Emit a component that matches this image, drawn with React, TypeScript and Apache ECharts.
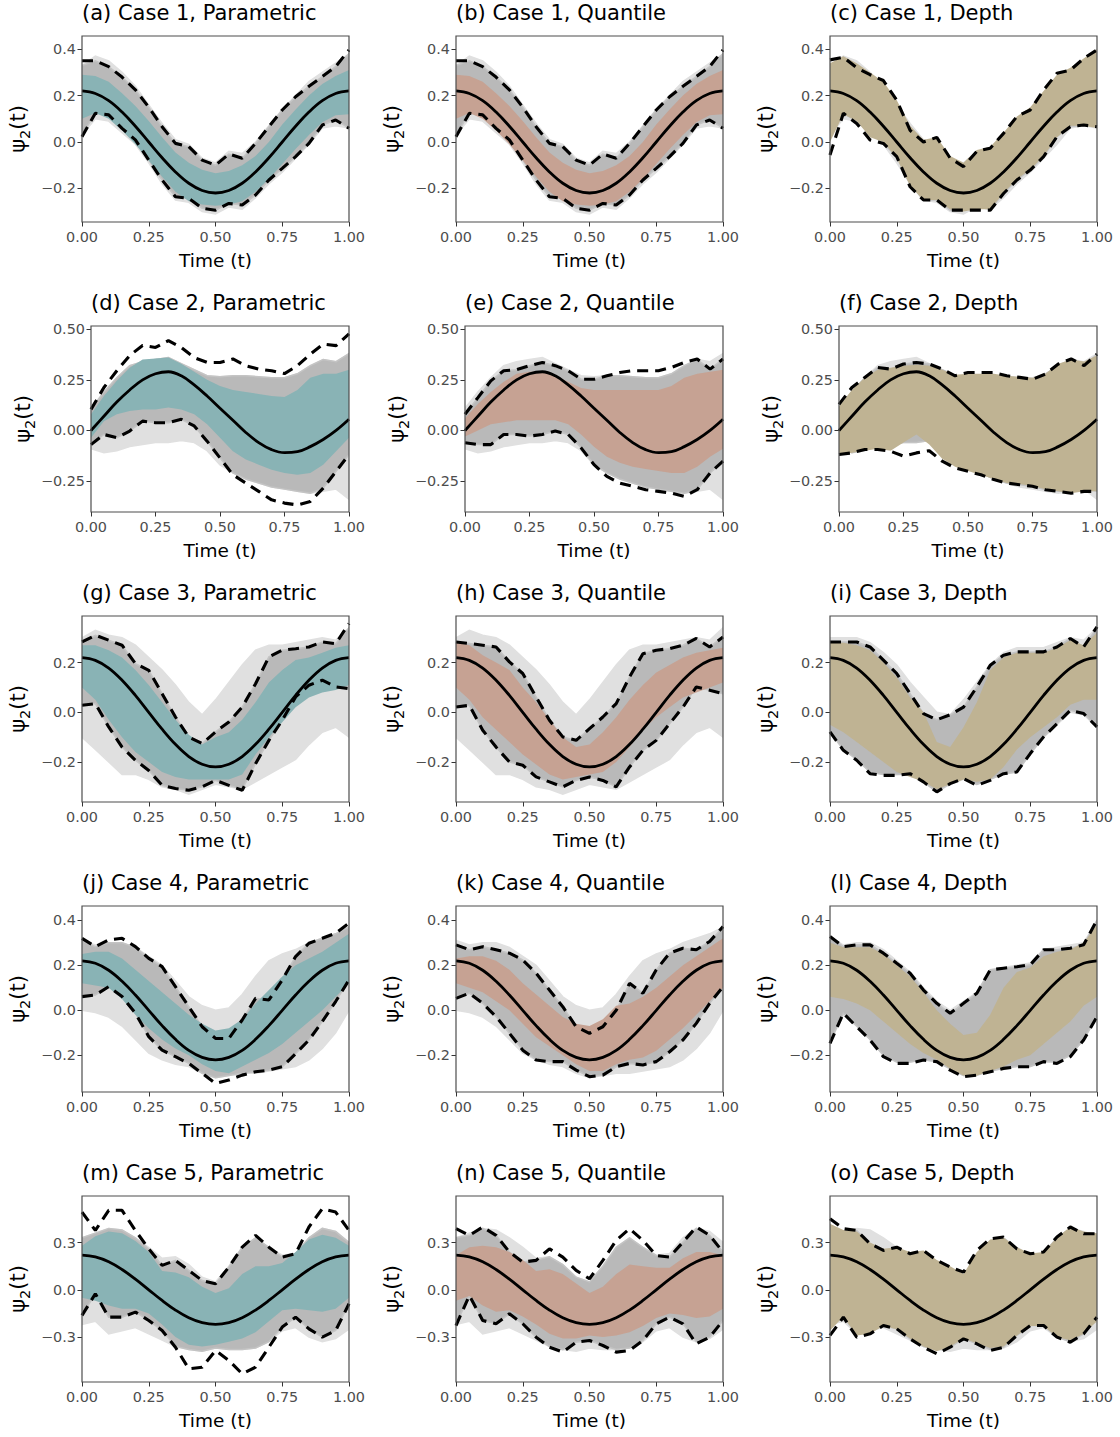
import React, { useEffect, useRef } from "react";
import * as echarts from "echarts";

// Common time grid for every curve
const T = [0, 0.05, 0.1, 0.15, 0.2, 0.25, 0.3, 0.35, 0.4, 0.45, 0.5, 0.55, 0.6, 0.65, 0.7, 0.75, 0.8, 0.85, 0.9, 0.95, 1];
const X_TICKS = [0, 0.25, 0.5, 0.75, 1];

// True eigenfunctions (solid line)
const MEAN_COS = [0.22, 0.209, 0.178, 0.129, 0.068, 0, -0.068, -0.129, -0.178, -0.209, -0.22, -0.209, -0.178, -0.129, -0.068, 0, 0.068, 0.129, 0.178, 0.209, 0.22];
const MEAN_C2 = [0, 0.07, 0.14, 0.2, 0.25, 0.28, 0.29, 0.27, 0.225, 0.17, 0.11, 0.05, -0.01, -0.06, -0.095, -0.11, -0.105, -0.08, -0.045, 0, 0.055];

// Envelopes of the estimated curves (grey)
const G1_HI = [0.33, 0.37, 0.35, 0.3, 0.24, 0.16, 0.08, 0.01, -0.01, -0.07, -0.09, -0.04, -0.05, 0.0, 0.07, 0.14, 0.2, 0.26, 0.3, 0.34, 0.38];
const G1_LO = [0.03, 0.1, 0.09, 0.04, -0.01, -0.09, -0.18, -0.25, -0.26, -0.3, -0.31, -0.28, -0.29, -0.24, -0.18, -0.13, -0.07, -0.01, 0.06, 0.07, 0.06];
const G2_HI = [0.11, 0.19, 0.26, 0.32, 0.34, 0.35, 0.36, 0.33, 0.3, 0.27, 0.265, 0.27, 0.27, 0.265, 0.26, 0.26, 0.28, 0.32, 0.35, 0.34, 0.38];
const G2_LO = [-0.09, -0.11, -0.1, -0.08, -0.07, -0.06, -0.06, -0.05, -0.06, -0.1, -0.17, -0.21, -0.24, -0.26, -0.28, -0.29, -0.3, -0.31, -0.3, -0.29, -0.34];
const G3_HI = [0.3, 0.33, 0.31, 0.3, 0.27, 0.22, 0.17, 0.11, 0.04, -0.01, 0.05, 0.12, 0.19, 0.25, 0.27, 0.27, 0.28, 0.29, 0.3, 0.29, 0.34];
const G3_LO = [-0.1, -0.15, -0.2, -0.25, -0.25, -0.27, -0.3, -0.31, -0.33, -0.31, -0.29, -0.3, -0.31, -0.28, -0.25, -0.22, -0.19, -0.13, -0.08, -0.06, -0.1];
const G_I_HI = [0.3, 0.3, 0.3, 0.28, 0.24, 0.19, 0.12, 0.06, 0.0, -0.01, 0.05, 0.12, 0.19, 0.24, 0.26, 0.26, 0.26, 0.28, 0.3, 0.29, 0.34];
const G_I_LO = [-0.08, -0.15, -0.19, -0.24, -0.25, -0.25, -0.25, -0.28, -0.32, -0.29, -0.27, -0.29, -0.27, -0.25, -0.24, -0.17, -0.1, -0.05, 0.0, -0.01, -0.06];
const G4_HI = [0.31, 0.29, 0.3, 0.3, 0.28, 0.24, 0.2, 0.13, 0.06, 0.02, 0.0, 0.01, 0.07, 0.15, 0.22, 0.25, 0.27, 0.3, 0.32, 0.34, 0.37];
const G4_LO = [0.0, -0.01, -0.03, -0.07, -0.13, -0.19, -0.22, -0.24, -0.25, -0.28, -0.3, -0.29, -0.28, -0.28, -0.27, -0.26, -0.25, -0.22, -0.17, -0.1, 0.0];
const G_L_HI = [0.33, 0.29, 0.3, 0.3, 0.27, 0.22, 0.17, 0.1, 0.04, 0.0, 0.04, 0.08, 0.18, 0.19, 0.2, 0.21, 0.27, 0.28, 0.29, 0.3, 0.4];
const G_L_LO = [-0.14, -0.02, -0.07, -0.13, -0.2, -0.23, -0.23, -0.22, -0.23, -0.26, -0.29, -0.29, -0.27, -0.26, -0.25, -0.25, -0.23, -0.23, -0.2, -0.13, -0.03];
const G5_HI = [0.33, 0.36, 0.39, 0.38, 0.33, 0.27, 0.2, 0.21, 0.16, 0.08, 0.05, 0.15, 0.27, 0.33, 0.27, 0.22, 0.23, 0.33, 0.39, 0.37, 0.3];
const G5_LO = [-0.22, -0.2, -0.28, -0.26, -0.24, -0.28, -0.32, -0.36, -0.38, -0.39, -0.37, -0.38, -0.38, -0.37, -0.33, -0.26, -0.24, -0.3, -0.33, -0.31, -0.25];

// Case 1
const B_A_HI = [0.29, 0.285, 0.26, 0.21, 0.155, 0.09, 0.02, -0.045, -0.09, -0.12, -0.135, -0.125, -0.1, -0.06, 0.0, 0.075, 0.14, 0.2, 0.25, 0.285, 0.31];
const B_A_LO = [0.1, 0.125, 0.1, 0.05, -0.01, -0.08, -0.15, -0.215, -0.255, -0.27, -0.275, -0.27, -0.255, -0.215, -0.16, -0.095, -0.03, 0.03, 0.085, 0.115, 0.12];
const D_A_HI = [0.35, 0.35, 0.325, 0.28, 0.225, 0.15, 0.066, -0.006, -0.02, -0.078, -0.1, -0.052, -0.07, -0.006, 0.066, 0.138, 0.195, 0.24, 0.282, 0.325, 0.397];
const D_A_LO = [0.023, 0.124, 0.117, 0.059, 0.009, -0.078, -0.164, -0.236, -0.243, -0.286, -0.294, -0.265, -0.272, -0.229, -0.164, -0.114, -0.063, -0.006, 0.073, 0.095, 0.059];
const B_B_HI = [0.29, 0.285, 0.26, 0.21, 0.155, 0.09, 0.02, -0.045, -0.09, -0.12, -0.135, -0.125, -0.1, -0.06, 0.0, 0.075, 0.14, 0.2, 0.25, 0.285, 0.31];
const B_B_LO = [0.1, 0.125, 0.1, 0.05, -0.01, -0.08, -0.15, -0.215, -0.255, -0.27, -0.275, -0.27, -0.255, -0.215, -0.16, -0.095, -0.03, 0.03, 0.085, 0.115, 0.12];
const D_B_HI = [0.35, 0.35, 0.325, 0.28, 0.225, 0.15, 0.066, -0.006, -0.02, -0.078, -0.1, -0.052, -0.07, -0.006, 0.066, 0.138, 0.195, 0.24, 0.282, 0.325, 0.397];
const D_B_LO = [0.023, 0.124, 0.117, 0.059, 0.009, -0.078, -0.164, -0.236, -0.243, -0.286, -0.294, -0.265, -0.272, -0.229, -0.164, -0.114, -0.063, -0.006, 0.073, 0.095, 0.059];
const B_C_HI = [0.34, 0.37, 0.34, 0.3, 0.26, 0.18, 0.07, 0.01, 0.02, -0.06, -0.09, -0.035, -0.02, 0.04, 0.11, 0.15, 0.22, 0.29, 0.32, 0.36, 0.4];
const B_C_LO = [0.0, 0.12, 0.09, 0.02, 0.0, -0.07, -0.19, -0.25, -0.25, -0.29, -0.3, -0.29, -0.29, -0.22, -0.16, -0.12, -0.06, 0.02, 0.07, 0.07, 0.06];
const D_C_HI = [0.354, 0.365, 0.32, 0.29, 0.265, 0.18, 0.05, 0.0, 0.02, -0.07, -0.106, -0.04, -0.027, 0.037, 0.11, 0.138, 0.224, 0.296, 0.31, 0.36, 0.397];
const D_C_LO = [-0.056, 0.124, 0.08, 0.009, -0.006, -0.063, -0.193, -0.25, -0.25, -0.294, -0.294, -0.294, -0.294, -0.222, -0.164, -0.121, -0.063, 0.023, 0.066, 0.073, 0.066];

// Case 2
const B_D_HI = [0.08, 0.17, 0.245, 0.31, 0.35, 0.355, 0.36, 0.33, 0.29, 0.25, 0.22, 0.2, 0.19, 0.18, 0.17, 0.165, 0.2, 0.26, 0.28, 0.28, 0.3];
const B_D_LO = [-0.036, 0.046, 0.08, 0.096, 0.104, 0.104, 0.113, 0.104, 0.08, 0.03, -0.036, -0.103, -0.144, -0.169, -0.194, -0.21, -0.219, -0.21, -0.169, -0.103, -0.036];
const D_D_HI = [0.104, 0.212, 0.295, 0.37, 0.42, 0.41, 0.444, 0.41, 0.36, 0.336, 0.336, 0.353, 0.32, 0.303, 0.295, 0.281, 0.32, 0.377, 0.427, 0.419, 0.477];
const D_D_LO = [-0.07, -0.02, -0.036, -0.003, 0.046, 0.038, 0.038, 0.055, 0.022, -0.053, -0.136, -0.219, -0.26, -0.301, -0.343, -0.359, -0.368, -0.351, -0.285, -0.202, -0.119];
const B_E_HI = [0.06, 0.13, 0.19, 0.24, 0.28, 0.29, 0.29, 0.27, 0.24, 0.21, 0.2, 0.2, 0.2, 0.2, 0.2, 0.2, 0.22, 0.26, 0.28, 0.29, 0.3];
const B_E_LO = [-0.03, 0.0, 0.03, 0.04, 0.05, 0.05, 0.05, 0.05, 0.03, -0.02, -0.08, -0.13, -0.16, -0.18, -0.19, -0.2, -0.21, -0.21, -0.18, -0.13, -0.09];
const D_E_HI = [0.08, 0.162, 0.245, 0.295, 0.3, 0.32, 0.336, 0.32, 0.295, 0.253, 0.253, 0.27, 0.286, 0.295, 0.295, 0.295, 0.311, 0.336, 0.353, 0.303, 0.353];
const D_E_LO = [-0.061, -0.07, -0.07, -0.02, -0.02, -0.028, -0.02, -0.003, -0.02, -0.086, -0.169, -0.227, -0.26, -0.276, -0.293, -0.301, -0.31, -0.326, -0.293, -0.21, -0.152];
const B_F_HI = [0.12, 0.2, 0.26, 0.3, 0.31, 0.32, 0.325, 0.32, 0.3, 0.275, 0.28, 0.28, 0.28, 0.27, 0.265, 0.26, 0.28, 0.33, 0.35, 0.34, 0.37];
const B_F_LO = [-0.12, -0.11, -0.1, -0.09, -0.1, -0.06, -0.02, -0.07, -0.14, -0.18, -0.2, -0.22, -0.24, -0.26, -0.265, -0.275, -0.29, -0.3, -0.31, -0.3, -0.3];
const D_F_HI = [0.129, 0.212, 0.262, 0.311, 0.303, 0.328, 0.336, 0.328, 0.303, 0.27, 0.286, 0.286, 0.286, 0.27, 0.262, 0.253, 0.278, 0.328, 0.353, 0.32, 0.377];
const D_F_LO = [-0.119, -0.111, -0.094, -0.094, -0.103, -0.127, -0.111, -0.1, -0.152, -0.185, -0.202, -0.219, -0.243, -0.26, -0.268, -0.276, -0.293, -0.301, -0.31, -0.301, -0.301];

// Case 3
const B_G_HI = [0.27, 0.27, 0.25, 0.22, 0.17, 0.11, 0.04, -0.03, -0.09, -0.13, -0.1, -0.08, -0.03, 0.04, 0.12, 0.17, 0.21, 0.22, 0.24, 0.26, 0.27];
const B_G_LO = [0.1, 0.05, -0.03, -0.1, -0.16, -0.2, -0.24, -0.26, -0.27, -0.27, -0.27, -0.27, -0.25, -0.17, -0.1, -0.04, 0.02, 0.06, 0.08, 0.09, 0.11];
const D_G_HI = [0.283, 0.31, 0.29, 0.27, 0.196, 0.169, 0.075, -0.019, -0.1, -0.126, -0.079, -0.039, 0.021, 0.115, 0.223, 0.25, 0.256, 0.263, 0.283, 0.276, 0.357];
const D_G_LO = [0.028, 0.035, -0.059, -0.14, -0.193, -0.234, -0.294, -0.307, -0.314, -0.3, -0.274, -0.294, -0.314, -0.207, -0.113, -0.032, 0.062, 0.109, 0.129, 0.102, 0.095];
const B_H_HI = [0.28, 0.27, 0.23, 0.2, 0.17, 0.1, 0.04, -0.03, -0.1, -0.14, -0.13, -0.08, -0.02, 0.05, 0.11, 0.16, 0.19, 0.22, 0.24, 0.25, 0.26];
const B_H_LO = [0.1, 0.05, -0.02, -0.07, -0.12, -0.17, -0.21, -0.25, -0.27, -0.26, -0.25, -0.24, -0.2, -0.14, -0.07, -0.02, 0.02, 0.06, 0.08, 0.1, 0.12];
const D_H_HI = [0.283, 0.277, 0.27, 0.263, 0.203, 0.156, 0.062, -0.032, -0.099, -0.113, -0.066, -0.019, 0.035, 0.142, 0.236, 0.25, 0.256, 0.27, 0.297, 0.263, 0.303];
const D_H_LO = [0.021, 0.028, -0.072, -0.14, -0.2, -0.213, -0.26, -0.28, -0.3, -0.274, -0.26, -0.274, -0.3, -0.22, -0.153, -0.113, -0.046, 0.021, 0.102, 0.089, 0.075];
const B_I_HI = [0.28, 0.28, 0.27, 0.25, 0.2, 0.14, 0.06, 0.0, -0.12, -0.14, -0.06, 0.04, 0.17, 0.22, 0.24, 0.24, 0.24, 0.26, 0.29, 0.27, 0.32];
const B_I_LO = [-0.05, -0.08, -0.12, -0.16, -0.2, -0.24, -0.26, -0.28, -0.31, -0.29, -0.27, -0.28, -0.27, -0.22, -0.15, -0.1, -0.06, -0.02, 0.03, 0.05, 0.05];
const D_I_HI = [0.283, 0.283, 0.283, 0.263, 0.21, 0.156, 0.075, -0.005, -0.03, -0.01, 0.021, 0.102, 0.189, 0.23, 0.243, 0.243, 0.243, 0.263, 0.297, 0.263, 0.344];
const D_I_LO = [-0.079, -0.153, -0.193, -0.247, -0.254, -0.254, -0.247, -0.28, -0.32, -0.287, -0.267, -0.294, -0.274, -0.247, -0.24, -0.166, -0.099, -0.046, 0.008, -0.005, -0.059];

// Case 4
const B_J_HI = [0.25, 0.26, 0.26, 0.23, 0.18, 0.13, 0.08, 0.03, -0.02, -0.06, -0.09, -0.08, -0.04, 0.03, 0.09, 0.15, 0.2, 0.23, 0.26, 0.3, 0.34];
const B_J_LO = [0.12, 0.11, 0.1, 0.05, -0.02, -0.08, -0.13, -0.17, -0.2, -0.24, -0.27, -0.28, -0.25, -0.22, -0.19, -0.15, -0.1, -0.05, 0.0, 0.06, 0.12];
const D_J_HI = [0.32, 0.283, 0.313, 0.32, 0.283, 0.231, 0.194, 0.105, 0.016, -0.073, -0.125, -0.125, -0.043, 0.053, 0.046, 0.135, 0.239, 0.298, 0.32, 0.343, 0.387];
const D_J_LO = [0.061, 0.068, 0.105, 0.061, -0.013, -0.117, -0.177, -0.206, -0.236, -0.28, -0.325, -0.31, -0.288, -0.273, -0.266, -0.251, -0.193, -0.132, -0.05, 0.039, 0.135];
const B_K_HI = [0.23, 0.24, 0.24, 0.22, 0.18, 0.12, 0.07, 0.02, -0.03, -0.06, -0.07, -0.04, 0.02, 0.03, 0.06, 0.1, 0.15, 0.2, 0.24, 0.28, 0.32];
const B_K_LO = [0.12, 0.1, 0.08, 0.04, 0.0, -0.06, -0.12, -0.16, -0.2, -0.24, -0.27, -0.27, -0.24, -0.22, -0.21, -0.18, -0.13, -0.08, -0.02, 0.04, 0.1];
const D_K_HI = [0.291, 0.269, 0.283, 0.269, 0.254, 0.224, 0.165, 0.09, 0.016, -0.073, -0.102, -0.073, 0.0, 0.12, 0.076, 0.18, 0.254, 0.276, 0.269, 0.306, 0.372];
const D_K_LO = [0.053, 0.076, 0.031, -0.028, -0.102, -0.177, -0.221, -0.228, -0.228, -0.266, -0.295, -0.288, -0.251, -0.236, -0.243, -0.228, -0.184, -0.132, -0.058, 0.031, 0.105];
const B_L_HI = [0.3, 0.28, 0.28, 0.28, 0.25, 0.2, 0.15, 0.08, 0.0, -0.06, -0.11, -0.1, -0.02, 0.1, 0.17, 0.19, 0.24, 0.26, 0.27, 0.3, 0.38];
const B_L_LO = [0.06, 0.05, 0.03, 0.0, -0.05, -0.1, -0.15, -0.19, -0.22, -0.26, -0.29, -0.29, -0.27, -0.25, -0.22, -0.2, -0.15, -0.1, -0.05, 0.02, 0.06];
const D_L_HI = [0.328, 0.283, 0.291, 0.291, 0.254, 0.209, 0.165, 0.09, 0.031, -0.013, 0.031, 0.076, 0.18, 0.187, 0.194, 0.202, 0.269, 0.269, 0.276, 0.291, 0.402];
const D_L_LO = [-0.147, -0.013, -0.073, -0.132, -0.206, -0.236, -0.236, -0.221, -0.228, -0.266, -0.295, -0.288, -0.273, -0.258, -0.251, -0.251, -0.228, -0.236, -0.206, -0.132, -0.028];

// Case 5
const B_M_HI = [0.28, 0.34, 0.37, 0.36, 0.31, 0.24, 0.12, 0.11, 0.08, 0.02, -0.02, 0.01, 0.1, 0.15, 0.15, 0.17, 0.24, 0.32, 0.35, 0.33, 0.28];
const B_M_LO = [-0.05, -0.07, -0.1, -0.12, -0.12, -0.15, -0.22, -0.3, -0.35, -0.36, -0.35, -0.33, -0.31, -0.27, -0.2, -0.13, -0.12, -0.13, -0.14, -0.12, -0.05];
const D_M_HI = [0.494, 0.377, 0.505, 0.505, 0.377, 0.26, 0.155, 0.187, 0.123, 0.059, 0.038, 0.144, 0.271, 0.346, 0.271, 0.208, 0.229, 0.399, 0.515, 0.494, 0.377];
const D_M_LO = [-0.163, -0.025, -0.174, -0.174, -0.142, -0.195, -0.259, -0.365, -0.502, -0.492, -0.386, -0.449, -0.534, -0.492, -0.365, -0.237, -0.174, -0.248, -0.301, -0.259, -0.089];
const B_N_HI = [0.22, 0.27, 0.28, 0.27, 0.24, 0.19, 0.12, 0.13, 0.1, 0.04, -0.02, 0.02, 0.1, 0.16, 0.15, 0.14, 0.14, 0.2, 0.24, 0.24, 0.22];
const B_N_LO = [-0.07, -0.04, -0.1, -0.14, -0.13, -0.17, -0.22, -0.28, -0.31, -0.31, -0.29, -0.3, -0.29, -0.27, -0.23, -0.18, -0.15, -0.16, -0.18, -0.17, -0.12];
const D_N_HI = [0.388, 0.346, 0.399, 0.346, 0.24, 0.176, 0.187, 0.26, 0.208, 0.123, 0.07, 0.187, 0.314, 0.388, 0.314, 0.218, 0.208, 0.303, 0.399, 0.346, 0.24];
const D_N_LO = [-0.227, -0.036, -0.195, -0.216, -0.153, -0.216, -0.301, -0.365, -0.396, -0.333, -0.322, -0.354, -0.396, -0.386, -0.322, -0.216, -0.174, -0.216, -0.343, -0.301, -0.195];
const B_O_HI = [0.42, 0.38, 0.37, 0.3, 0.26, 0.27, 0.24, 0.25, 0.19, 0.15, 0.1, 0.24, 0.32, 0.33, 0.27, 0.23, 0.24, 0.33, 0.4, 0.37, 0.36];
const B_O_LO = [-0.26, -0.17, -0.29, -0.28, -0.23, -0.25, -0.31, -0.36, -0.39, -0.36, -0.31, -0.34, -0.37, -0.36, -0.29, -0.23, -0.23, -0.3, -0.32, -0.28, -0.2];
const D_O_HI = [0.452, 0.388, 0.377, 0.293, 0.25, 0.271, 0.229, 0.25, 0.187, 0.144, 0.112, 0.25, 0.324, 0.335, 0.26, 0.229, 0.24, 0.335, 0.399, 0.356, 0.356];
const D_O_LO = [-0.29, -0.174, -0.301, -0.28, -0.227, -0.248, -0.312, -0.365, -0.407, -0.365, -0.312, -0.343, -0.386, -0.365, -0.29, -0.227, -0.227, -0.301, -0.333, -0.28, -0.174];

// Y axis per row
const ROW_Y_TICKS = [[-0.2, 0, 0.2, 0.4], [-0.25, 0, 0.25, 0.5], [-0.2, 0, 0.2], [-0.2, 0, 0.2, 0.4], [-0.3, 0, 0.3]];
const ROW_Y_RANGE = [[-0.345, 0.457], [-0.403, 0.516], [-0.361, 0.3875], [-0.363, 0.4636], [-0.586, 0.596]];
const ROW_Y_DIGITS = [1, 2, 1, 1, 1];

// Layout of the 5 x 3 panels (pixels)
const ROW_TOP = [36, 326, 616, 906, 1196];
const PANEL_H = 186;
const COL_RIGHT = [349, 723, 1097];
const ROW_LEFT = [[82, 456, 830], [91, 465, 839], [82, 456, 830], [82, 456, 830], [82, 456, 830]];

const FONT = '"DejaVu Sans", "Liberation Sans", sans-serif';
const TEAL = "#89b3b5";
const SALMON = "#c6a293";
const TAN = "#bfb393";
const GREY_LIGHT = "#e0e0e0";
const GREY_DENSE = "#b9b9b9";

type Panel = {
  title: string; row: number; col: number; mean: number[];
  gLo: number[]; gHi: number[]; bLo: number[]; bHi: number[]; dLo: number[]; dHi: number[]; fill: string;
};

const PANELS: Panel[] = [
  { title: "(a) Case 1, Parametric", row: 0, col: 0, mean: MEAN_COS, gLo: G1_LO, gHi: G1_HI, bLo: B_A_LO, bHi: B_A_HI, dLo: D_A_LO, dHi: D_A_HI, fill: TEAL },
  { title: "(b) Case 1, Quantile", row: 0, col: 1, mean: MEAN_COS, gLo: G1_LO, gHi: G1_HI, bLo: B_B_LO, bHi: B_B_HI, dLo: D_B_LO, dHi: D_B_HI, fill: SALMON },
  { title: "(c) Case 1, Depth", row: 0, col: 2, mean: MEAN_COS, gLo: G1_LO, gHi: G1_HI, bLo: B_C_LO, bHi: B_C_HI, dLo: D_C_LO, dHi: D_C_HI, fill: TAN },
  { title: "(d) Case 2, Parametric", row: 1, col: 0, mean: MEAN_C2, gLo: G2_LO, gHi: G2_HI, bLo: B_D_LO, bHi: B_D_HI, dLo: D_D_LO, dHi: D_D_HI, fill: TEAL },
  { title: "(e) Case 2, Quantile", row: 1, col: 1, mean: MEAN_C2, gLo: G2_LO, gHi: G2_HI, bLo: B_E_LO, bHi: B_E_HI, dLo: D_E_LO, dHi: D_E_HI, fill: SALMON },
  { title: "(f) Case 2, Depth", row: 1, col: 2, mean: MEAN_C2, gLo: G2_LO, gHi: G2_HI, bLo: B_F_LO, bHi: B_F_HI, dLo: D_F_LO, dHi: D_F_HI, fill: TAN },
  { title: "(g) Case 3, Parametric", row: 2, col: 0, mean: MEAN_COS, gLo: G3_LO, gHi: G3_HI, bLo: B_G_LO, bHi: B_G_HI, dLo: D_G_LO, dHi: D_G_HI, fill: TEAL },
  { title: "(h) Case 3, Quantile", row: 2, col: 1, mean: MEAN_COS, gLo: G3_LO, gHi: G3_HI, bLo: B_H_LO, bHi: B_H_HI, dLo: D_H_LO, dHi: D_H_HI, fill: SALMON },
  { title: "(i) Case 3, Depth", row: 2, col: 2, mean: MEAN_COS, gLo: G_I_LO, gHi: G_I_HI, bLo: B_I_LO, bHi: B_I_HI, dLo: D_I_LO, dHi: D_I_HI, fill: TAN },
  { title: "(j) Case 4, Parametric", row: 3, col: 0, mean: MEAN_COS, gLo: G4_LO, gHi: G4_HI, bLo: B_J_LO, bHi: B_J_HI, dLo: D_J_LO, dHi: D_J_HI, fill: TEAL },
  { title: "(k) Case 4, Quantile", row: 3, col: 1, mean: MEAN_COS, gLo: G4_LO, gHi: G4_HI, bLo: B_K_LO, bHi: B_K_HI, dLo: D_K_LO, dHi: D_K_HI, fill: SALMON },
  { title: "(l) Case 4, Depth", row: 3, col: 2, mean: MEAN_COS, gLo: G_L_LO, gHi: G_L_HI, bLo: B_L_LO, bHi: B_L_HI, dLo: D_L_LO, dHi: D_L_HI, fill: TAN },
  { title: "(m) Case 5, Parametric", row: 4, col: 0, mean: MEAN_COS, gLo: G5_LO, gHi: G5_HI, bLo: B_M_LO, bHi: B_M_HI, dLo: D_M_LO, dHi: D_M_HI, fill: TEAL },
  { title: "(n) Case 5, Quantile", row: 4, col: 1, mean: MEAN_COS, gLo: G5_LO, gHi: G5_HI, bLo: B_N_LO, bHi: B_N_HI, dLo: D_N_LO, dHi: D_N_HI, fill: SALMON },
  { title: "(o) Case 5, Depth", row: 4, col: 2, mean: MEAN_COS, gLo: G5_LO, gHi: G5_HI, bLo: B_O_LO, bHi: B_O_HI, dLo: D_O_LO, dHi: D_O_HI, fill: TAN },
];

// Filled region between two curves, drawn as one polygon in data coordinates
function ribbon(k: number, lo: number[], hi: number[], fill: string, stroke?: string, strokeWidth?: number) {
  return {
    type: "custom",
    xAxisIndex: k,
    yAxisIndex: k,
    clip: true,
    silent: true,
    data: T.map((t, i) => [t, lo[i], hi[i]]),
    encode: { x: 0, y: [1, 2] },
    renderItem: (params: any, api: any) => {
      if (params.dataIndex !== 0) return null;
      const top = T.map((t, i) => api.coord([t, hi[i]]));
      const bottom = T.map((t, i) => api.coord([t, lo[i]])).reverse();
      return {
        type: "polygon",
        shape: { points: top.concat(bottom) },
        style: { fill, stroke: stroke || "none", lineWidth: strokeWidth || 0 },
      };
    },
  };
}

function curve(k: number, values: number[], dashed: boolean) {
  return {
    type: "line",
    xAxisIndex: k,
    yAxisIndex: k,
    silent: true,
    showSymbol: false,
    smooth: dashed ? false : 0.4,
    data: T.map((t, i) => [t, values[i]]),
    lineStyle: dashed
      ? { color: "#000", width: 3.1, type: [11, 7] }
      : { color: "#000", width: 2.8 },
  };
}

function buildOption() {
  const grid: any[] = [];
  const xAxis: any[] = [];
  const yAxis: any[] = [];
  const series: any[] = [];
  const graphic: any[] = [];

  PANELS.forEach((p, k) => {
    const left = ROW_LEFT[p.row][p.col];
    const right = COL_RIGHT[p.col];
    const top = ROW_TOP[p.row];
    const width = right - left;
    const [ymin, ymax] = ROW_Y_RANGE[p.row];
    const ticks = ROW_Y_TICKS[p.row];
    const digits = ROW_Y_DIGITS[p.row];

    grid.push({ left, top, width, height: PANEL_H, containLabel: false });

    xAxis.push({
      gridIndex: k, type: "value", min: 0, max: 1, interval: 0.25, position: "bottom",
      axisLine: { show: false, onZero: false },
      axisTick: { show: true, length: 4.5, lineStyle: { color: "#333", width: 1 }, customValues: X_TICKS },
      splitLine: { show: false },
      axisLabel: {
        color: "#4d4d4d", fontSize: 14.4, fontFamily: FONT, margin: 8,
        showMinLabel: true, showMaxLabel: true, hideOverlap: false,
        customValues: X_TICKS,
        formatter: (v: number) => v.toFixed(2),
      },
      name: "Time (t)", nameLocation: "middle", nameGap: 29,
      nameTextStyle: { color: "#000", fontSize: 18.5, fontFamily: FONT },
    });

    yAxis.push({
      gridIndex: k, type: "value", min: ymin, max: ymax, position: "left",
      axisLine: { show: false, onZero: false },
      axisTick: { show: true, length: 4.5, lineStyle: { color: "#333", width: 1 }, customValues: ticks },
      splitLine: { show: false },
      axisLabel: {
        color: "#4d4d4d", fontSize: 14.4, fontFamily: FONT, margin: 6,
        customValues: ticks,
        formatter: (v: number) => {
          const s = Math.abs(v).toFixed(digits);
          return v < 0 ? "\u2212" + s : s;
        },
      },
      name: "{psi|\u03c8}{sub|2}{psi|(t)}",
      nameLocation: "middle", nameRotate: 90, nameGap: 50,
      nameTextStyle: {
        color: "#000", fontFamily: FONT,
        rich: {
          psi: { fontSize: 21, fontFamily: FONT, color: "#000", lineHeight: 28, verticalAlign: "middle" },
          sub: { fontSize: 14.5, fontFamily: FONT, color: "#000", lineHeight: 28, verticalAlign: "bottom" },
        },
      },
    });

    const denseLo = T.map((_, i) => Math.max(p.dLo[i], p.gLo[i]));
    const denseHi = T.map((_, i) => Math.min(p.dHi[i], p.gHi[i]));

    series.push(ribbon(k, p.gLo, p.gHi, GREY_LIGHT, GREY_LIGHT, 1.5));
    series.push(ribbon(k, denseLo, denseHi, GREY_DENSE, "#c4c4c4", 1.5));
    series.push(ribbon(k, p.bLo, p.bHi, p.fill));
    series.push(curve(k, p.mean, false));
    series.push(curve(k, p.dHi, true));
    series.push(curve(k, p.dLo, true));

    graphic.push({
      type: "text", x: left, y: top - 23, z: 100,
      style: { text: p.title, fontSize: 21, fontFamily: FONT, fill: "#000", align: "left", verticalAlign: "middle" },
    });
    graphic.push({
      type: "rect", z: 100, silent: true,
      shape: { x: left, y: top, width, height: PANEL_H },
      style: { fill: "none", stroke: "#4d4d4d", lineWidth: 1.2 },
    });
  });

  return { animation: false, grid, xAxis, yAxis, series, graphic };
}

export default function App() {
  const ref = useRef<HTMLDivElement>(null);
  useEffect(() => {
    if (!ref.current) return;
    const chart = echarts.init(ref.current, undefined, { renderer: "svg" });
    chart.setOption(buildOption() as any);
    return () => chart.dispose();
  }, []);
  return (
    <div
      ref={ref}
      style={{ position: "absolute", left: 0, top: 0, width: 1120, height: 1437, background: "#fff" }}
    />
  );
}
